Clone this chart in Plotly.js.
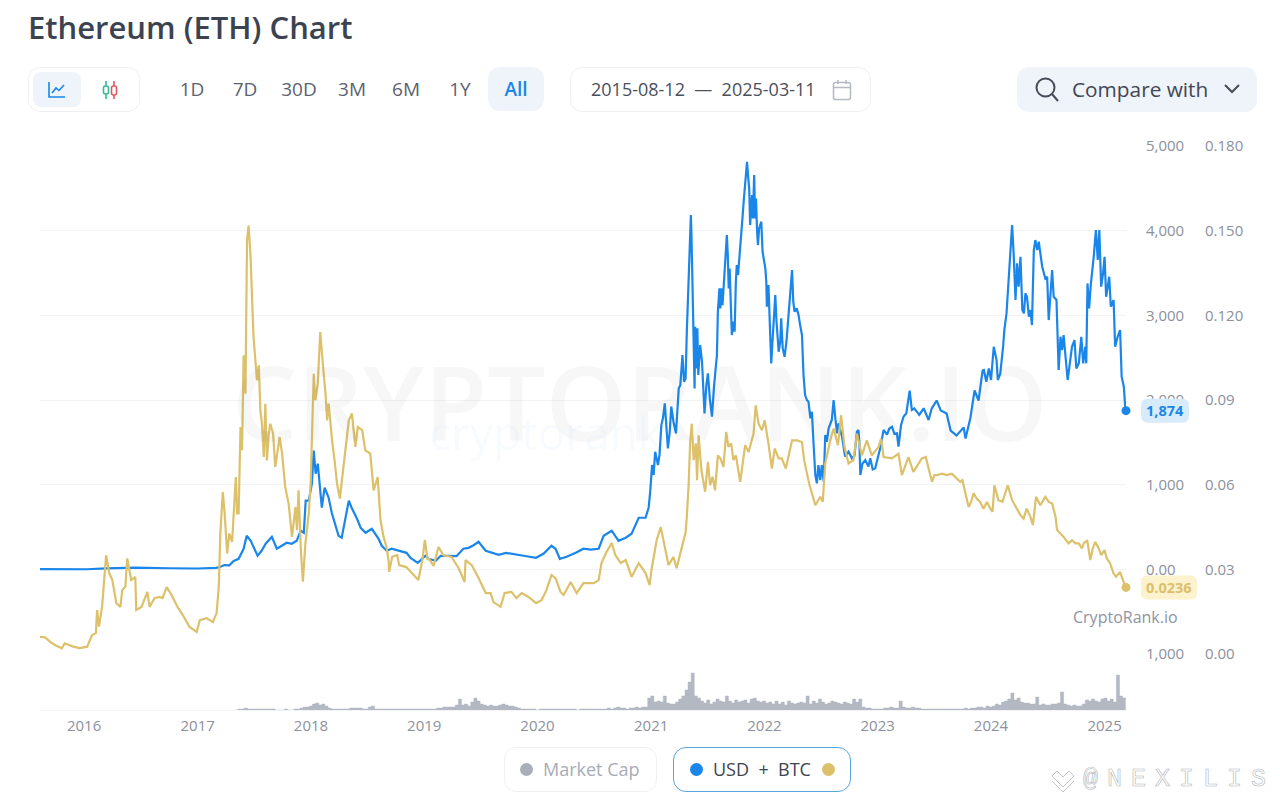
<!DOCTYPE html>
<html>
<head>
<meta charset="utf-8">
<title>Ethereum (ETH) Chart</title>
<script src="https://cdn.plot.ly/plotly-3.0.1.min.js"></script>
<style>
  html, body { margin: 0; padding: 0; background: #fff; overflow: hidden; }
  body { width: 1280px; height: 802px; position: relative; font-family: "Open Sans", "Noto Sans", sans-serif; }
  #chart { position: absolute; left: 0; top: 0; width: 1280px; height: 802px; }
  .ui { position: absolute; box-sizing: border-box; z-index: 5; white-space: nowrap; }
  .box { border: 1px solid #eef0f3; border-radius: 12px; background: #fff; }
  .btn { color: #5b6270; font-size: 19px; line-height: 44px; top: 67px; height: 44px; text-align: center; width: 50px; }
  .dot { width: 13px; height: 13px; border-radius: 50%; top: 763px; }
</style>
</head>
<body>
<div id="chart"></div>

<div class="ui box" style="left:28px;top:67px;width:112px;height:45px"></div>
<div class="ui" style="left:33px;top:72px;width:48px;height:35px;background:#eff4fb;border-radius:8px"></div>
<svg class="ui" style="left:47px;top:80px" width="20" height="20" viewBox="0 0 20 20" fill="none" stroke="#1a86e8" stroke-width="1.6">
  <path d="M2 2V17H18"/><path d="M5 13L9 8L12 10.5L17 5"/>
</svg>
<svg class="ui" style="left:100px;top:79px" width="20" height="22" viewBox="0 0 20 22" fill="none" stroke-width="1.6">
  <path d="M6 2V20" stroke="#35b79a"/><rect x="3.5" y="7" width="5" height="8" rx="2" fill="#fff" stroke="#35b79a"/>
  <path d="M14 2V20" stroke="#e0565b"/><rect x="11.5" y="7" width="5" height="9" rx="2" fill="#fff" stroke="#e0565b"/>
</svg>

<div class="ui btn" style="left:167px">1D</div>
<div class="ui btn" style="left:220px">7D</div>
<div class="ui btn" style="left:274px">30D</div>
<div class="ui btn" style="left:327px">3M</div>
<div class="ui btn" style="left:381px">6M</div>
<div class="ui btn" style="left:435px">1Y</div>
<div class="ui btn" style="left:488px;width:56px;background:#eff4fb;border-radius:12px;color:#1a86e8;font-weight:600">All</div>

<div class="ui box" style="left:570px;top:67px;width:301px;height:45px"></div>
<div class="ui" style="left:591px;top:67px;line-height:44px;font-size:18px;color:#4a505c">2015-08-12&nbsp; — &nbsp;2025-03-11</div>
<svg class="ui" style="left:832px;top:79px" width="20" height="22" viewBox="0 0 20 22" fill="none" stroke="#b4b9c2" stroke-width="1.5">
  <rect x="1.5" y="3.5" width="17" height="17" rx="2"/><path d="M1.5 8.5H18.5M6 1V5M14 1V5"/>
</svg>

<div class="ui" style="left:1017px;top:67px;width:240px;height:45px;background:#eff3fa;border-radius:12px"></div>
<svg class="ui" style="left:1034px;top:76px" width="26" height="26" viewBox="0 0 26 26" fill="none" stroke="#454b57" stroke-width="2">
  <circle cx="11.5" cy="11.5" r="9"/><path d="M18 18L24 25"/>
</svg>
<div class="ui" style="left:1072px;top:67px;line-height:45px;font-size:20.8px;color:#414753;font-weight:500">Compare with</div>
<svg class="ui" style="left:1223px;top:83px" width="18" height="12" viewBox="0 0 18 12" fill="none" stroke="#454b57" stroke-width="2">
  <path d="M2 2L9 9L16 2"/>
</svg>

<div class="ui box" style="left:504px;top:747px;width:153px;height:45px"></div>
<div class="ui dot" style="left:520px;background:#a9aeb9"></div>
<div class="ui" style="left:543px;top:747px;line-height:45px;font-size:18px;color:#a7acb7">Market Cap</div>
<div class="ui" style="left:673px;top:747px;width:178px;height:45px;border:1.5px solid #5aa5dc;border-radius:13px;background:#fff"></div>
<div class="ui dot" style="left:690px;background:#1a86ea"></div>
<div class="ui" style="left:713px;top:747px;line-height:45px;font-size:18px;color:#3e4450">USD&nbsp; +&nbsp; BTC</div>
<div class="ui dot" style="left:822px;background:#dcc06a"></div>

<svg class="ui" style="left:1050px;top:768px" width="26" height="26" viewBox="0 0 26 26" fill="none" stroke="#c4c7cc" stroke-width="1">
  <path d="M2 8L7 3L13 9L19 3L24 8L13 19Z M2 13L13 24L24 13"/>
</svg>
<div class="ui" style="left:1083px;top:762px;line-height:36px;font-size:25px;letter-spacing:9px;color:transparent;-webkit-text-stroke:0.6px #b4b7bd;font-family:'Liberation Mono',monospace">@NEXILIS</div>

<script>
// values
var usdDates = ['2015-08-12','2015-10-20','2016-01-10','2016-03-12','2016-06-15','2016-10-01','2017-01-01','2017-03-01','2017-03-14','2017-03-28','2017-04-13','2017-04-27','2017-05-13','2017-05-29','2017-06-08','2017-06-21','2017-07-01','2017-07-13','2017-07-26','2017-08-08','2017-08-28','2017-09-13','2017-09-29','2017-10-15','2017-10-31','2017-11-16','2017-11-29','2017-12-09','2017-12-15','2017-12-25',
  '2018-01-04','2018-01-10','2018-01-16','2018-01-23','2018-02-02','2018-02-05','2018-02-14','2018-02-27','2018-03-09','2018-03-31','2018-04-10','2018-04-23','2018-05-03','2018-05-12','2018-05-28','2018-06-10','2018-06-26','2018-07-16','2018-08-07','2018-08-17','2018-09-02','2018-09-18','2018-11-05','2018-11-18','2018-12-11',
  '2019-01-05','2019-01-15','2019-02-07','2019-02-23','2019-03-20','2019-04-15','2019-05-07','2019-05-24','2019-06-09','2019-06-25','2019-07-18','2019-08-07','2019-08-29','2019-09-21','2019-10-22','2019-11-17','2019-12-27',
  '2020-01-20','2020-02-15','2020-02-28','2020-03-13','2020-04-04','2020-05-03','2020-05-28','2020-06-20','2020-07-16','2020-08-01','2020-08-27','2020-09-18','2020-10-11','2020-10-30','2020-11-22','2020-12-14','2020-12-24',
  '2020-12-29','2021-01-04','2021-01-09','2021-01-14','2021-01-23','2021-01-28','2021-02-03','2021-02-08','2021-02-14','2021-02-19','2021-02-24','2021-03-02','2021-03-07','2021-03-14','2021-03-22','2021-03-27','2021-03-31','2021-04-05','2021-04-12','2021-04-17','2021-04-22','2021-04-26',
  '2021-05-02','2021-05-06','2021-05-09','2021-05-11','2021-05-14','2021-05-18','2021-05-21','2021-05-23','2021-05-26','2021-05-30','2021-06-02','2021-06-08','2021-06-14','2021-06-18','2021-06-22','2021-06-28','2021-07-03','2021-07-09','2021-07-16','2021-07-23',
  '2021-08-01','2021-08-04','2021-08-09','2021-08-12','2021-08-15','2021-08-19','2021-08-22','2021-09-02','2021-09-05','2021-09-08','2021-09-11','2021-09-15','2021-09-18','2021-09-24','2021-09-27','2021-10-01','2021-10-04','2021-10-08','2021-10-15','2021-10-19','2021-10-23','2021-10-27','2021-10-31',
  '2021-11-06','2021-11-10','2021-11-13','2021-11-16','2021-11-22','2021-11-25','2021-11-29','2021-12-02','2021-12-05','2021-12-08','2021-12-11','2021-12-15','2021-12-22','2021-12-26','2021-12-29',
  '2022-01-04','2022-01-07','2022-01-09','2022-01-14','2022-01-20','2022-01-23','2022-01-27','2022-02-01','2022-02-05','2022-02-09','2022-02-16','2022-02-21','2022-02-24','2022-03-01','2022-03-07','2022-03-13','2022-03-20','2022-03-25','2022-03-31','2022-04-04','2022-04-08','2022-04-15','2022-04-21','2022-04-26',
  '2022-05-02','2022-05-07','2022-05-12','2022-05-18','2022-05-23','2022-05-29','2022-06-03','2022-06-08','2022-06-14','2022-06-19','2022-06-24','2022-06-30','2022-07-05','2022-07-11','2022-07-16','2022-07-21','2022-07-27',
  '2022-08-06','2022-08-12','2022-08-17','2022-08-23','2022-08-28','2022-09-08','2022-09-18','2022-09-29','2022-10-10','2022-10-18','2022-10-26','2022-10-31','2022-11-03','2022-11-06','2022-11-13','2022-11-22','2022-12-02','2022-12-08','2022-12-16','2022-12-24',
  '2023-01-09','2023-01-15','2023-01-20','2023-01-31','2023-02-07','2023-02-16','2023-02-24','2023-03-04','2023-03-09','2023-03-17','2023-03-25','2023-04-03','2023-04-10','2023-04-14','2023-04-21','2023-04-29','2023-05-07','2023-05-15','2023-05-29','2023-06-05','2023-06-14',
  '2023-06-24','2023-07-10','2023-07-23','2023-08-11','2023-08-24','2023-09-12','2023-10-05','2023-10-11','2023-10-27','2023-11-09','2023-11-22','2023-12-05','2023-12-09','2023-12-17','2023-12-25',
  '2024-01-01','2024-01-10','2024-01-19','2024-01-23','2024-01-31','2024-02-09','2024-02-13','2024-02-20','2024-02-26','2024-03-04','2024-03-09','2024-03-14','2024-03-20','2024-03-25','2024-03-30','2024-04-05','2024-04-11','2024-04-16','2024-04-21','2024-04-26',
  '2024-05-02','2024-05-07','2024-05-12','2024-05-18','2024-05-23','2024-05-29','2024-06-03','2024-06-14','2024-06-24','2024-06-30','2024-07-05','2024-07-16','2024-07-21','2024-07-30','2024-08-06','2024-08-12','2024-08-17','2024-08-22','2024-08-28',
  '2024-09-04','2024-09-11','2024-09-18','2024-09-26','2024-10-02','2024-10-10','2024-10-18','2024-10-24','2024-10-31','2024-11-03','2024-11-07','2024-11-12','2024-11-18','2024-11-27','2024-12-04','2024-12-10','2024-12-15','2024-12-21','2024-12-27',
  '2025-01-01','2025-01-06','2025-01-16','2025-01-21','2025-01-30','2025-02-04','2025-02-12','2025-02-20','2025-02-25','2025-03-04','2025-03-08','2025-03-11'];
var usdValues = [2,1,1,12,20,13,10,17,28,50,48,100,124,243,396,337,254,160,219,302,385,243,278,314,302,337,456,432,811,811,
  1012,1402,1130,1248,846,728,965,846,669,396,373,610,811,728,610,491,432,479,361,278,219,243,195,136,77,
  160,124,100,160,160,155,243,254,285,325,219,195,172,195,172,160,136,
  183,278,243,124,148,195,243,232,243,396,456,337,373,420,609,609,728,
  917,1232,1114,1389,1232,1350,1704,1783,1960,1743,1428,1625,1921,1743,1606,1901,2137,2176,2531,2216,2255,2806,
  3436,3909,4184,3948,3515,2688,2137,2865,2373,2846,2295,2649,2452,2058,1842,2176,2314,2019,1803,2176,
  2531,3043,3318,3082,3318,3121,3318,3948,3712,3318,3554,3161,2767,2924,2806,3397,3594,3476,3869,3988,4184,4381,4578,
  4814,4617,4499,4066,4421,4145,4657,4145,4381,4027,3830,4027,4106,3751,3673,
  3554,3397,3102,3357,2846,2432,2688,3043,3239,2924,2570,2688,2964,2609,2511,2688,3043,3318,3535,3161,3043,3082,3003,2885,
  2767,2295,2058,1999,1980,1783,1861,1507,1113,1015,1232,1054,1232,1035,1586,1507,1665,
  1764,2000,1800,1606,1724,1567,1331,1390,1311,1340,1626,1646,1500,1114,1250,1291,1213,1311,1180,1193,
  1429,1560,1646,1590,1660,1685,1600,1606,1449,1700,1803,1840,2000,2110,1882,1900,1862,1825,1902,1850,1764,
  1899,1994,1876,1840,1639,1580,1675,1544,1793,2112,1994,2349,2354,2216,2373,
  2236,2629,2472,2236,2314,2629,2826,3023,3417,3811,4066,3732,3181,3614,3338,3692,3062,3023,3259,3220,
  2984,3062,2885,3771,3889,3771,3870,3574,3436,3456,2944,3535,3220,3181,2354,2747,2590,2767,2472,
  2236,2433,2629,2708,2373,2433,2747,2433,2629,2433,3377,3082,3377,3692,4007,3653,4007,3338,3496,
  3692,3220,3456,3102,3181,2629,2747,2826,2275,2157,1940,1874];

var btcDates = ['2015-08-12','2015-08-28','2015-09-13','2015-09-29','2015-10-21','2015-10-31','2015-11-22','2015-12-17','2016-01-11','2016-01-27','2016-02-08','2016-02-12','2016-02-18','2016-02-28','2016-03-12','2016-03-22','2016-04-01','2016-04-14','2016-04-27','2016-05-03','2016-05-13','2016-05-19','2016-06-01','2016-06-14','2016-06-17','2016-07-04','2016-07-23','2016-07-30','2016-08-15','2016-08-31','2016-09-10','2016-09-23','2016-10-09','2016-10-28','2016-11-14','2016-12-06','2016-12-29',
  '2017-01-08','2017-01-30','2017-02-19','2017-03-03','2017-03-10','2017-03-15','2017-03-23','2017-03-29','2017-04-06','2017-04-13','2017-04-22','2017-04-29','2017-05-04','2017-05-08','2017-05-13','2017-05-19','2017-05-24','2017-05-29','2017-06-04','2017-06-09','2017-06-14','2017-06-20','2017-06-25','2017-06-30','2017-07-06','2017-07-11','2017-07-17','2017-07-22','2017-07-27',
  '2017-08-02','2017-08-07','2017-08-12','2017-08-18','2017-08-23','2017-09-01','2017-09-08','2017-09-22','2017-09-30','2017-10-10','2017-10-21','2017-11-01','2017-11-12','2017-11-17','2017-11-22','2017-11-30','2017-12-06','2017-12-14','2017-12-25','2017-12-31',
  '2018-01-05','2018-01-10','2018-01-15','2018-01-23','2018-01-31','2018-02-06','2018-02-11','2018-02-17','2018-02-22','2018-02-27','2018-03-05','2018-03-10','2018-03-18','2018-03-26','2018-04-04','2018-04-11','2018-04-22','2018-05-03','2018-05-13','2018-05-24','2018-06-01','2018-06-15','2018-06-25','2018-07-11','2018-07-22','2018-08-04','2018-08-13','2018-08-23','2018-09-01','2018-09-08',
  '2018-09-10','2018-09-20','2018-10-06','2018-10-12','2018-11-04','2018-11-23','2018-12-13','2018-12-26',
  '2019-01-03','2019-01-12','2019-01-15','2019-01-31','2019-02-16','2019-03-04','2019-03-30','2019-04-22','2019-05-11','2019-05-14','2019-06-03','2019-06-25','2019-07-18','2019-08-03','2019-08-12','2019-09-04','2019-09-17','2019-10-09','2019-10-25','2019-11-11','2019-12-03','2019-12-27',
  '2020-01-14','2020-01-30','2020-02-15','2020-02-28','2020-03-15','2020-03-25','2020-04-17','2020-05-06','2020-05-28','2020-06-30','2020-07-16','2020-07-25','2020-08-10','2020-08-27','2020-09-08','2020-09-25','2020-10-11','2020-10-30','2020-11-22','2020-12-14','2020-12-27',
  '2021-01-03','2021-01-19','2021-02-01','2021-02-13','2021-02-26','2021-03-14','2021-03-24','2021-04-06','2021-04-22',
  '2021-04-26','2021-05-02','2021-05-07','2021-05-12','2021-05-18','2021-05-25','2021-05-29','2021-06-03','2021-06-12','2021-06-24','2021-07-03','2021-07-10','2021-07-18','2021-07-26','2021-08-04','2021-08-12','2021-08-22','2021-08-31','2021-09-07','2021-09-16','2021-09-23','2021-10-01','2021-10-15','2021-10-31','2021-11-11','2021-11-27','2021-12-04','2021-12-13','2021-12-24',
  '2022-01-02','2022-01-14','2022-01-25','2022-02-03','2022-02-16','2022-02-26','2022-03-11','2022-03-31','2022-04-16','2022-05-02','2022-05-09','2022-05-25','2022-06-14','2022-06-30','2022-07-08','2022-07-16','2022-08-01','2022-08-12','2022-08-26','2022-09-05','2022-09-16','2022-09-29','2022-10-15','2022-10-26','2022-11-11','2022-11-27','2022-12-13',
  '2023-01-04','2023-01-12','2023-01-20','2023-02-16','2023-03-09','2023-03-20','2023-04-10','2023-04-26','2023-05-23','2023-06-05','2023-06-14',
  '2023-06-25','2023-07-03','2023-07-11','2023-07-27','2023-08-12','2023-08-28','2023-09-13','2023-09-24','2023-10-01','2023-10-10','2023-10-21','2023-10-29','2023-11-06','2023-11-16','2023-11-27','2023-12-08','2023-12-19','2023-12-30',
  '2024-01-06','2024-01-12','2024-01-20','2024-01-25','2024-02-07','2024-02-16','2024-02-24','2024-03-09','2024-03-25','2024-04-05','2024-04-15','2024-04-25','2024-05-07','2024-05-15','2024-05-25','2024-06-03','2024-06-08','2024-06-24','2024-07-05','2024-07-16','2024-07-27',
  '2024-08-01','2024-08-12','2024-08-22','2024-09-07','2024-09-18','2024-09-29','2024-10-10','2024-10-20','2024-10-26','2024-11-06','2024-11-16','2024-11-24','2024-12-02','2024-12-13','2024-12-21',
  '2025-01-01','2025-01-08','2025-01-19','2025-01-30','2025-02-07','2025-02-20','2025-03-03','2025-03-11'];
var btcValues = [.0061,.0059,.0044,.0032,.0020,.0038,.0028,.0021,.0026,.0067,.0074,.0156,.0097,.0167,.0350,.0286,.0262,.0180,.0167,.0227,.0238,.0339,.0262,.0273,.0156,.0167,.0220,.0167,.0198,.0202,.0198,.0237,.0209,.0167,.0138,.0096,.0078,
  .0120,.0127,.0113,.0145,.0238,.0427,.0574,.0498,.0356,.0427,.0397,.0533,.0627,.0498,.0498,.0804,.0722,.1058,.0922,.1465,.1518,.1418,.1282,.1123,.1040,.0970,.1023,.0863,.0816,
  .0698,.0887,.0686,.0781,.0816,.0781,.0663,.0769,.0710,.0592,.0533,.0415,.0521,.0439,.0580,.0356,.0256,.0391,.0498,.0604,
  .0804,.0993,.0899,.0958,.1141,.1040,.0993,.0922,.0828,.0887,.0804,.0757,.0686,.0604,.0551,.0616,.0722,.0828,.0852,.0734,.0804,.0793,.0722,.0710,.0580,.0627,.0474,.0415,.0380,.0332,
  .0291,.0345,.0350,.0315,.0308,.0286,.0262,.0333,
  .0404,.0333,.0340,.0312,.0379,.0350,.0344,.0304,.0255,.0333,.0315,.0269,.0216,.0216,.0184,.0167,.0216,.0220,.0198,.0216,.0202,.0180,
  .0191,.0227,.0280,.0269,.0220,.0209,.0255,.0216,.0251,.0251,.0262,.0322,.0361,.0393,.0350,.0322,.0333,.0273,.0322,.0287,.0244,
  .0304,.0404,.0450,.0379,.0315,.0344,.0304,.0361,.0430,
  .0486,.0604,.0757,.0816,.0687,.0746,.0616,.0775,.0651,.0575,.0681,.0598,.0628,.0580,.0704,.0693,.0663,.0787,.0734,.0746,.0687,.0704,.0610,.0740,.0716,.0781,.0881,.0816,.0793,
  .0828,.0746,.0657,.0728,.0693,.0693,.0657,.0757,.0757,.0751,.0687,.0604,.0527,.0557,.0539,.0675,.0757,.0799,.0740,.0846,.0734,.0675,.0687,.0781,.0704,.0757,.0704,
  .0734,.0763,.0698,.0693,.0710,.0634,.0698,.0645,.0693,.0698,.0657,
  .0610,.0634,.0634,.0639,.0634,.0639,.0622,.0610,.0616,.0575,.0521,.0539,.0569,.0551,.0539,.0515,.0539,.0515,
  .0504,.0598,.0569,.0545,.0539,.0569,.0598,.0545,.0515,.0492,.0480,.0515,.0486,.0457,.0557,.0539,.0527,.0557,.0539,.0533,.0486,
  .0439,.0427,.0415,.0392,.0403,.0392,.0392,.0374,.0392,.0403,.0333,.0374,.0397,.0374,.0350,
  .0368,.0339,.0321,.0285,.0274,.0291,.0256,.0236];

// market cap strip, one value every 10 days from capStart
var capStart = '2017-05-01';
var capValues = [0,1,1,2,1,1,1,1,1,1,1,1,1,0,0,0,1,0,0,1,1,2,3,3,
  4,6,7,5,6,4,2,1,1,1,1,1,1,2,2,2,2,1,1,3,4,1,1,1,1,1,1,1,1,1,1,1,1,1,1,1,
  1,1,1,1,1,2,2,3,3,3,3,5,11,5,6,4,8,12,9,6,5,4,5,4,4,5,6,5,4,4,3,2,1,1,1,1,1,
  0,1,1,1,1,1,1,1,1,1,1,1,1,0,1,1,1,1,1,1,1,1,1,2,1,2,3,2,2,1,2,2,3,2,3,3,
  12,14,8,9,8,14,7,6,6,8,11,14,20,28,37,14,12,9,7,10,6,8,11,9,8,14,9,7,10,8,9,10,7,11,12,9,8,
  9,7,8,6,9,6,8,5,9,7,6,7,8,7,14,6,9,7,11,8,6,7,9,8,7,6,8,7,6,11,8,11,3,2,2,1,1,
  1,1,2,2,3,2,2,9,3,2,2,3,2,2,1,1,1,1,1,1,1,1,1,1,1,1,1,1,2,1,2,2,3,3,2,4,3,
  4,6,5,8,9,11,17,10,12,8,7,7,6,6,13,5,6,5,5,6,6,7,18,6,5,4,5,4,4,6,10,9,11,9,8,11,12,
  9,11,8,35,14,12,11];

var yearTicks = ['2016-01-01','2017-01-01','2018-01-01','2019-01-01','2020-01-01','2021-01-01','2022-01-01','2023-01-01','2024-01-01','2025-01-01'];
var yearLabels = ['2016','2017','2018','2019','2020','2021','2022','2023','2024','2025'];
var usdTicks = [-1000,0,1000,2000,3000,4000,5000];
var usdTickText = ['1,000','0.00','1,000','2,000','3,000','4,000','5,000'];
var btcTicks = [0,.03,.06,.09,.12,.15,.18];
var btcTickText = ['0.00','0.03','0.06','0.09','0.120','0.150','0.180'];

var usdColor = '#1a86ea', btcColor = '#dcc06a', tickColor = '#8b919d', gridColor = '#f2f3f5';
var lastUsd = usdValues[usdValues.length - 1], lastBtc = btcValues[btcValues.length - 1];
var lastDate = usdDates[usdDates.length - 1];

var capDates = capValues.map(function (v, i) {
  var d = new Date(capStart + 'T00:00:00Z');
  d.setUTCDate(d.getUTCDate() + i * 10);
  return d.toISOString().slice(0, 10);
});

// page pixels to paper fractions
var marginL = 40, marginT = 146, marginB = 92, plotW = 1240, plotH = 564;
function px(x) { return (x - marginL) / plotW; }
function py(y) { return (802 - marginB - y) / plotH; }

function pill(w, h, r) {
  return 'M' + r + ',' + (-h) + ' L' + (w - r) + ',' + (-h) + ' Q' + w + ',' + (-h) + ' ' + w + ',' + (-h + r) +
    ' L' + w + ',' + (h - r) + ' Q' + w + ',' + h + ' ' + (w - r) + ',' + h + ' L' + r + ',' + h +
    ' Q0,' + h + ' 0,' + (h - r) + ' L0,' + (-h + r) + ' Q0,' + (-h) + ' ' + r + ',' + (-h) + ' Z';
}

var data = [
  {x: capDates, y: capValues, type: 'scatter', mode: 'lines', xaxis: 'x', yaxis: 'y3',
   fill: 'tozeroy', fillcolor: '#b3b8c3', line: {color: '#b3b8c3', width: 0.5, shape: 'hv'}, hoverinfo: 'skip'},
  {x: usdDates, y: usdValues, type: 'scatter', mode: 'lines', xaxis: 'x', yaxis: 'y',
   line: {color: usdColor, width: 2.2}},
  {x: btcDates, y: btcValues, type: 'scatter', mode: 'lines', xaxis: 'x', yaxis: 'y2',
   line: {color: btcColor, width: 2.2}},
  {x: [lastDate], y: [lastUsd], type: 'scatter', mode: 'markers', xaxis: 'x', yaxis: 'y', cliponaxis: false,
   marker: {color: usdColor, size: 9}},
  {x: [lastDate], y: [lastBtc], type: 'scatter', mode: 'markers', xaxis: 'x', yaxis: 'y2', cliponaxis: false,
   marker: {color: btcColor, size: 9}}
];

var tickFont = {family: '"Open Sans", "Noto Sans", sans-serif', size: 15, color: tickColor};
var split = 56 / plotH;

var layout = {
  width: 1280, height: 802, showlegend: false,
  paper_bgcolor: 'rgba(0,0,0,0)', plot_bgcolor: 'rgba(0,0,0,0)',
  margin: {l: marginL, r: 0, t: marginT, b: marginB, pad: 0},
  title: {text: 'Ethereum (ETH) Chart', xref: 'container', x: 28 / 1280, xanchor: 'left', yref: 'container', y: 1 - 28 / 802, yanchor: 'middle',
          font: {family: '"Open Sans", "Noto Sans", sans-serif', size: 31, weight: 600, color: '#3c4350'}},
  xaxis: {type: 'date', domain: [0, 1086 / plotW], range: [usdDates[0], lastDate], anchor: 'y3',
          tickmode: 'array', tickvals: yearTicks, ticktext: yearLabels, tickfont: tickFont, ticklabelstandoff: 2,
          showgrid: false, zeroline: false, showline: true, linecolor: gridColor, ticks: ''},
  yaxis: {domain: [split, 1], range: [-1000, 5000], side: 'right', anchor: 'free', position: px(1145),
          tickmode: 'array', tickvals: usdTicks, ticktext: usdTickText, tickfont: tickFont,
          showgrid: true, gridcolor: gridColor, gridwidth: 1, zeroline: false, showline: false, ticks: ''},
  yaxis2: {domain: [split, 1], range: [0, .18], side: 'right', anchor: 'free', position: px(1204), overlaying: 'y',
           tickmode: 'array', tickvals: btcTicks, ticktext: btcTickText, tickfont: tickFont,
           showgrid: false, zeroline: false, showline: false, ticks: ''},
  yaxis3: {domain: [0, split], range: [0, 56], anchor: 'x', visible: false},
  shapes: [
    {type: 'path', layer: 'above', xref: 'paper', xsizemode: 'pixel', xanchor: px(1141), yref: 'y', ysizemode: 'pixel', yanchor: lastUsd,
     path: pill(48, 12, 7), fillcolor: '#d8ebfb', line: {width: 0}},
    {type: 'path', layer: 'above', xref: 'paper', xsizemode: 'pixel', xanchor: px(1141), yref: 'y2', ysizemode: 'pixel', yanchor: lastBtc,
     path: pill(56, 12, 7), fillcolor: '#fcf2cd', line: {width: 0}}
  ],
  annotations: [
    {xref: 'paper', yref: 'paper', x: px(640), xanchor: 'center', y: py(401), yanchor: 'middle', text: 'CRYPTORANK.IO', showarrow: false,
     font: {family: '"Open Sans", sans-serif', size: 103, weight: 600, color: 'rgba(70,80,100,0.045)'}},
    {xref: 'paper', yref: 'paper', x: px(545), xanchor: 'center', y: py(432), yanchor: 'middle', text: 'cryptorank', showarrow: false,
     font: {family: '"Open Sans", sans-serif', size: 46, color: 'rgba(26,134,234,0.04)'}},
    {xref: 'paper', yref: 'paper', x: px(1125), xanchor: 'center', y: py(617), yanchor: 'middle', text: 'CryptoRank.io', showarrow: false,
     font: {family: '"Open Sans", sans-serif', size: 16, color: '#8e94a0'}},
    {xref: 'paper', yref: 'y', x: px(1144), xanchor: 'left', y: lastUsd, yanchor: 'middle', text: '<b>1,874</b>', showarrow: false,
     font: {family: '"Open Sans", sans-serif', size: 14.5, color: usdColor}},
    {xref: 'paper', yref: 'y2', x: px(1144), xanchor: 'left', y: lastBtc, yanchor: 'middle', text: '<b>0.0236</b>', showarrow: false,
     font: {family: '"Open Sans", sans-serif', size: 14.5, color: btcColor}}
  ]
};

Plotly.newPlot('chart', data, layout, {responsive: false, displayModeBar: false, staticPlot: true});
</script>
</body>
</html>
